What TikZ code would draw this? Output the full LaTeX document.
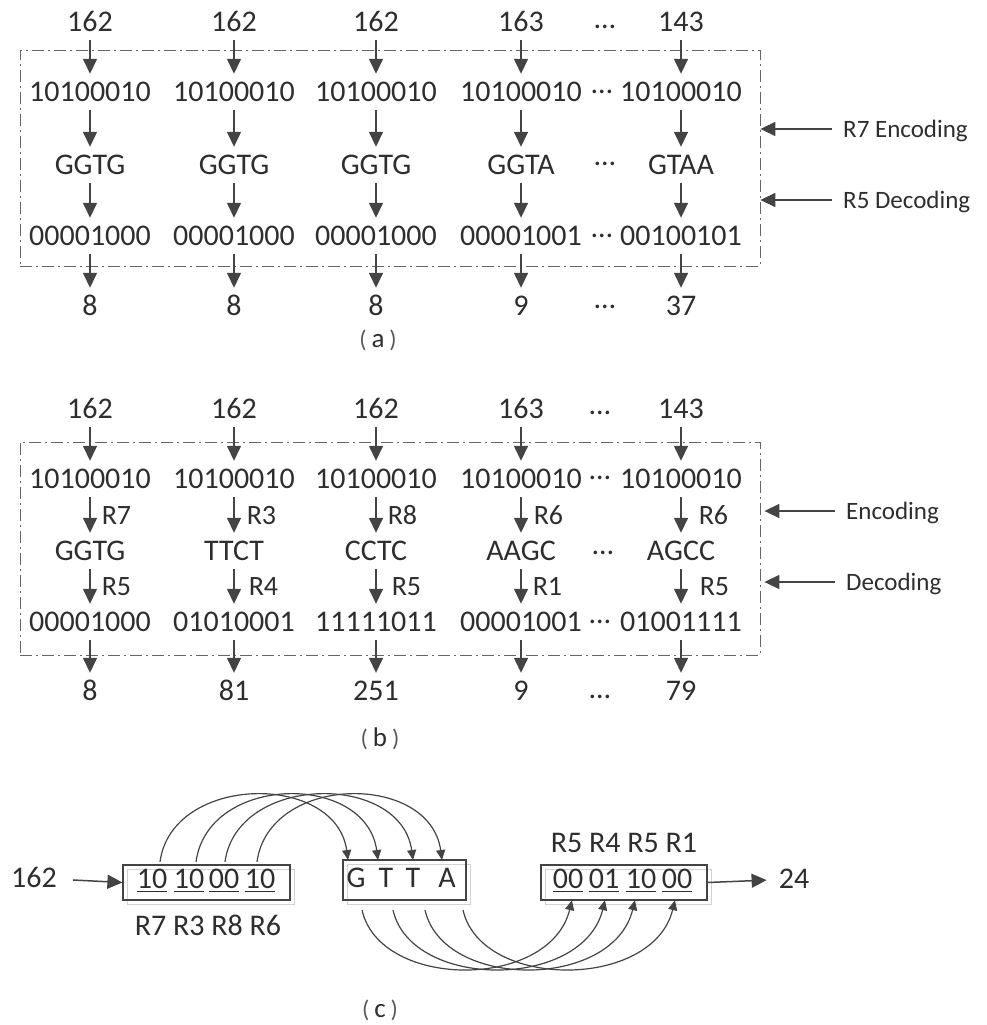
\documentclass[tikz,border=0pt]{standalone}
\usepackage{fontspec}
\setmainfont{Carlito}
\usetikzlibrary{arrows.meta,calc}
\definecolor{ink}{HTML}{2E2E2E}
\definecolor{arrc}{HTML}{444444}
\definecolor{boxc}{HTML}{666666}
\newcommand\fsbig{\fontsize{30}{36}\selectfont}
\newcommand\fsmid{\fontsize{28}{34}\selectfont}
\newcommand\fssmall{\fontsize{25}{30}\selectfont}
\newcommand\mycap[1]{{\fontsize{24}{24}\selectfont\color{ink!80}(}\hspace{5pt}{\fontsize{27}{27}\selectfont #1}\hspace{5pt}{\fontsize{24}{24}\selectfont\color{ink!80})}}
\begin{document}
\begin{tikzpicture}[x=1pt,y=-1pt,
  t/.style={font=\fsbig, text=ink, inner xsep=0pt, inner ysep=8.5pt, text height=19pt, text depth=0pt},
  arr/.style={draw=arrc, line width=1.5pt, -{Triangle[length=15pt,width=14pt]}},
  carr/.style={draw=arrc, line width=1.2pt, -{Triangle[length=10pt,width=9pt]}},
  dbox/.style={draw=boxc, line width=0.8pt, dash pattern=on 12pt off 4pt on 2pt off 4pt, inner sep=0pt},
  dd/.style={font=\fsbig, text=ink, inner sep=0pt},
  rl/.style={font=\fsmid, text=ink, inner sep=0pt, anchor=west, text height=18pt, text depth=0pt},
  side/.style={font=\fssmall, text=ink, inner xsep=11pt, inner ysep=0pt, anchor=west, text height=16pt, text depth=0pt},
  cbox/.style={draw=arrc, line width=1.2pt, inner sep=0pt},
  shad/.style={draw=gray!35, line width=0.8pt},
  pr/.style={font=\fsbig, text=ink, inner sep=0pt, text height=19pt, text depth=0pt},
  ul/.style={draw=ink, line width=1.1pt},
  capt/.style={text=ink, inner sep=0pt}
]
\path[use as bounding box] (0,0) rectangle (986,1025);

% ---------------- (a) ----------------
\node[dbox, minimum width=740pt, minimum height=216pt] (boxa) at (390,158) {};
\foreach \x/\n/\bi/\dn/\bo/\r [count=\i] in {
  90/162/10100010/GGTG/00001000/8,
  234/162/10100010/GGTG/00001000/8,
  376/162/10100010/GGTG/00001000/8,
  521/163/10100010/GGTA/00001001/9,
  681/143/10100010/GTAA/00100101/37}{
  \node[t] (an\i) at (\x,22) {\n};
  \node[t] (ab\i) at (\x,92) {\bi};
  \node[t] (ad\i) at (\x,165) {\dn};
  \node[t] (ac\i) at (\x,236) {\bo};
  \node[t] (ar\i) at (\x,306) {\r};
  \draw[arr] (an\i) -- (ab\i);
  \draw[arr] (ab\i) -- (ad\i);
  \draw[arr] (ad\i) -- (ac\i);
  \draw[arr] (ac\i) -- (ar\i);
}
\node[dd] (adot1) at (605,27) {…};
\node[dd] (adot2) at (602,92) {…};
\node[dd] (adot3) at (605,164) {…};
\node[dd] (adot5) at (602,236) {…};
\node[dd] (adot4) at (605,307) {…};
\node[side] (aenc) at (832,129) {R7 Encoding};
\node[side] (adec) at (832,200) {R5 Decoding};
\draw[arr] (aenc.west) -- (aenc.west -| boxa.east);
\draw[arr] (adec.west) -- (adec.west -| boxa.east);
\node[capt] (capa) at (378,340) {\mycap{a}};

% ---------------- (b) ----------------
\node[dbox, minimum width=740pt, minimum height=213pt] (boxb) at (390,548.5) {};
\foreach \x/\n/\bi/\ra/\dn/\rb/\bo/\r/\sa/\sb [count=\i] in {
  90/162/10100010/R7/GGTG/R5/00001000/8/11/11,
  234/162/10100010/R3/TTCT/R4/01010001/81/12/14,
  376/162/10100010/R8/CCTC/R5/11111011/251/11/15,
  521/163/10100010/R6/AAGC/R1/00001001/9/12/11,
  681/143/10100010/R6/AGCC/R5/01001111/79/17/18}{
  \node[t] (bn\i) at (\x,409) {\n};
  \node[t] (bb\i) at (\x,479) {\bi};
  \node[t] (bd\i) at (\x,551) {\dn};
  \node[t] (bc\i) at (\x,622) {\bo};
  \node[t] (br\i) at (\x,691) {\r};
  \draw[arr] (bn\i) -- (bb\i);
  \draw[arr] (bb\i) -- node[rl, xshift=\sa pt] {\ra} (bd\i);
  \draw[arr] (bd\i) -- node[rl, xshift=\sb pt] {\rb} (bc\i);
  \draw[arr] (bc\i) -- (br\i);
}
\node[dd] (bdot1) at (600,413) {…};
\node[dd] (bdot2) at (600,478) {…};
\node[dd] (bdot3) at (603,553) {…};
\node[dd] (bdot4) at (600,622) {…};
\node[dd] (bdot5) at (600,697) {…};
\node[side] (benc) at (835,511) {Encoding};
\node[side] (bdec) at (835,582) {Decoding};
\draw[arr, shorten >=4pt] (benc.west) -- (benc.west -| boxb.east);
\draw[arr, shorten >=4pt] (bdec.west) -- (bdec.west -| boxb.east);
\node[capt] (capb) at (380,739) {\mycap{b}};

% ---------------- (c) ----------------
\draw[shad] (127,869) rectangle (294,904);
\draw[shad] (347,864) rectangle (470,904);
\draw[shad] (545,869) rectangle (711,904);
\node[cbox, minimum width=167pt, minimum height=35pt] (b1) at (206.5,882.5) {};
\node[cbox, minimum width=123pt, minimum height=40pt] (b2) at (404.5,880) {};
\node[cbox, minimum width=166pt, minimum height=35pt] (b3) at (624,882.5) {};

\foreach \x/\v [count=\i] in {152/10,189/10,224/00,260/10}{
  \node[pr] (p\i) at (\x,878.5) {\v};
  \draw[ul] ($(p\i.south west)+(0,3)$) -- ($(p\i.south east)+(0,3)$);
}
\foreach \x/\v [count=\i] in {568/00,604/01,641/10,677/00}{
  \node[pr] (q\i) at (\x,878.5) {\v};
  \draw[ul] ($(q\i.south west)+(0,3)$) -- ($(q\i.south east)+(0,3)$);
}
\foreach \x/\v [count=\i] in {356/G,386/T,413/T,447/A}{
  \node[pr] (l\i) at (\x,878) {\v};
}

\node[pr] (cin) at (34,878) {162};
\node[pr] (cout) at (794,879) {24};
\draw[arr, shorten <=16pt] (cin) -- (b1.west);
\draw[arr, shorten >=12pt] (b3.east) -- (cout);

\node[capt, font=\fsbig] (rlow) at (208,925) {R7 R3 R8 R6};
\node[capt, font=\fsbig] (rup) at (624,843) {R5 R4 R5 R1};

\foreach \i/\dx/\ex in {1/8/-8, 2/7/-8, 3/1/0, 4/-3/-5}{
  \draw[carr] ($(p\i.north)+(\dx,-7)$) .. controls +(12,-88) and +(-12,-88) .. ($(l\i)+(\ex,-18)$);
}
\foreach \i/\sx/\ex in {1/6/4, 2/7/1, 3/12/-6, 4/16/-2}{
  \draw[carr] ($(l\i)+(\sx,32)$) .. controls +(18,80) and +(-22,90) .. ($(q\i.south)+(\ex,12)$);
}
\node[capt] (capc) at (380,1010) {\mycap{c}};
\end{tikzpicture}
\end{document}
